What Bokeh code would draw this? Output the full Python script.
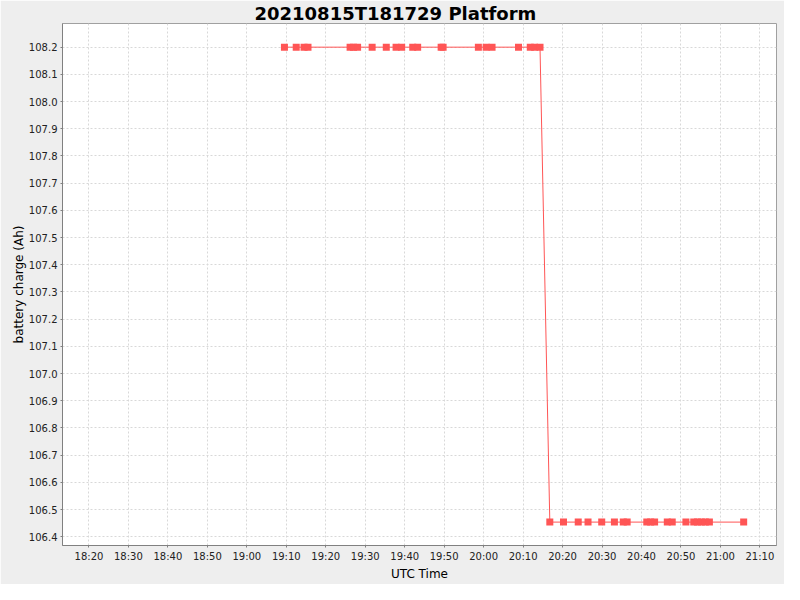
import pandas as pd
from bokeh.plotting import figure
from bokeh.models import (SingleIntervalTicker, DatetimeTickFormatter, NumeralTickFormatter,
                          Range1d, ColumnDataSource)
from bokeh.embed import file_html
from bokeh.resources import INLINE

title_text = "20210815T181729 Platform"
day = "2021-08-15"

times = ["19:09:32", "19:12:31", "19:14:30", "19:15:30", "19:26:10", "19:27:02", "19:28:04",
         "19:31:45", "19:35:20", "19:37:49", "19:39:14", "19:42:02", "19:43:17", "19:49:14",
         "19:49:44", "19:58:40", "20:00:38", "20:02:08", "20:08:50", "20:11:49", "20:12:55",
         "20:14:17",
         "20:16:46", "20:20:14", "20:23:58", "20:26:27", "20:29:55", "20:33:08", "20:35:23",
         "20:36:22", "20:41:20", "20:42:19", "20:43:19", "20:46:32", "20:47:47", "20:51:15",
         "20:53:14", "20:54:11", "20:55:10", "20:56:10", "20:57:12", "21:05:53"]
charge = [108.2, 108.2, 108.2, 108.2, 108.2, 108.2, 108.2,
          108.2, 108.2, 108.2, 108.2, 108.2, 108.2, 108.2,
          108.2, 108.2, 108.2, 108.2, 108.2, 108.2, 108.2,
          108.2,
          106.454, 106.454, 106.454, 106.454, 106.454, 106.454, 106.454,
          106.454, 106.454, 106.454, 106.454, 106.454, 106.454, 106.454,
          106.454, 106.454, 106.454, 106.454, 106.454, 106.454]

x_start, x_end = "18:13:18", "21:14:12"
y_start, y_end = 106.368, 108.287

ts = pd.to_datetime([day + " " + t for t in times])
src = ColumnDataSource(dict(t=ts, v=charge))

FONT = "DejaVu Sans"
RED = "#FF5555"

p = figure(width=784, height=584, x_axis_type="datetime", output_backend="svg",
           toolbar_location=None,
           x_range=Range1d(pd.Timestamp(day + " " + x_start), pd.Timestamp(day + " " + x_end)),
           y_range=Range1d(y_start, y_end),
           x_axis_label="UTC Time", y_axis_label="battery charge (Ah)")
p.min_border_left = 62
p.min_border_right = 8
p.min_border_top = 19
p.min_border_bottom = 39

p.title.text = title_text
p.title.text_font = FONT
p.title.text_font_size = "18px"
p.title.text_font_style = "bold"
p.title.text_color = "#000000"
p.title.align = "left"
p.title.offset = 192
p.title.standoff = 0

p.background_fill_color = "white"
p.border_fill_color = "#EEEEEE"
p.outline_line_color = "#A0A0A0"
p.outline_line_width = 1

p.line("t", "v", source=src, line_color=RED, line_width=1)
p.scatter("t", "v", source=src, marker="square", size=7, fill_color=RED, line_color=None)

p.xaxis.ticker = SingleIntervalTicker(interval=600000, num_minor_ticks=0)
p.xaxis.formatter = DatetimeTickFormatter(minutes="%H:%M", hourmin="%H:%M", hours="%H:%M",
                                          minsec="%H:%M")
p.yaxis.ticker = SingleIntervalTicker(interval=0.1, num_minor_ticks=0)
p.yaxis.formatter = NumeralTickFormatter(format="0.0")

for ax in (p.xaxis, p.yaxis):
    ax.axis_line_color = "#808080"
    ax.major_tick_line_color = "#808080"
    ax.major_tick_out = 2
    ax.major_tick_in = 0
    ax.minor_tick_line_color = None
    ax.major_label_text_font = FONT
    ax.major_label_text_font_size = "10px"
    ax.major_label_text_color = "#222222"
    ax.axis_label_text_font = FONT
    ax.axis_label_text_font_size = "12px"
    ax.axis_label_text_font_style = "normal"
    ax.axis_label_text_color = "#000000"

p.xaxis.major_label_standoff = 3
p.xaxis.axis_label_standoff = 2
p.yaxis.major_label_standoff = 3
p.yaxis.axis_label_standoff = 0

for g in (p.xgrid, p.ygrid):
    g.grid_line_color = "#D8D8D8"
    g.grid_line_dash = "2 2"
    g.grid_line_width = 1

open("out.html", "w").write(file_html(p, INLINE))
